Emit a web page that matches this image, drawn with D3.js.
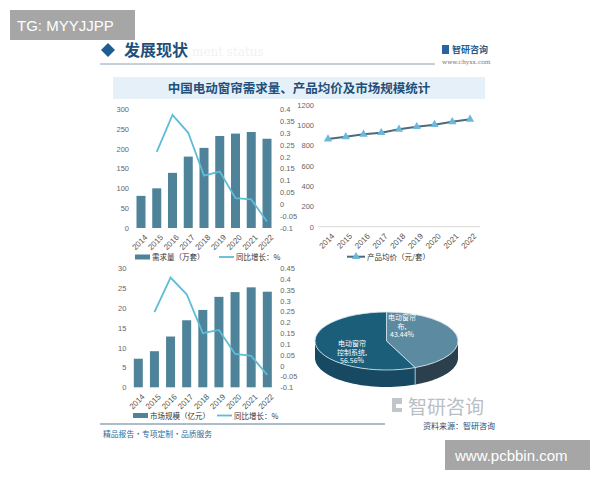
<!DOCTYPE html>
<html>
<head>
<meta charset="utf-8">
<script src="https://cdn.jsdelivr.net/npm/d3@7"></script>
<style>
  body { margin: 0; background: #fff; }
  svg text { font-family: "Noto Sans CJK SC", "Liberation Sans", sans-serif; }
</style>
</head>
<body>
<div id="chart"></div>
<script>
// data
var years = ["2014", "2015", "2016", "2017", "2018", "2019", "2020", "2021", "2022"];
var demand = [81, 100, 139, 180, 202, 232, 238, 242, 225];          // 万套
var demandGrowth = [null, 0.22, 0.375, 0.30, 0.12, 0.137, 0.025, 0.02, -0.073];
var price = [865, 887, 911, 927, 960, 986, 1006, 1035, 1059];        // 元/套
var marketSize = [7.2, 9.1, 12.8, 16.9, 19.5, 22.8, 24.0, 25.2, 24.1]; // 亿元
var marketGrowth = [null, 0.247, 0.407, 0.33, 0.15, 0.165, 0.054, 0.045, -0.043];
var pieNames = ["电动窗帘布", "电动窗帘控制系统"];
var pieShares = [43.44, 56.56];

var barColor = "#4f8399", growColor = "#5dbdd6", axisText = "#666";

var svg = d3.select("#chart").append("svg")
  .attr("width", 600).attr("height", 480);

// ---- overlay boxes & header ----
svg.append("rect").attr("x", 10).attr("y", 10).attr("width", 125).attr("height", 30).attr("fill", "#a6a6a6");
svg.append("text").attr("x", 17).attr("y", 31).text("TG: MYYJJPP")
  .attr("fill", "#fff").attr("font-size", 15).style("font-family", "Liberation Sans, sans-serif");

svg.append("path").attr("d", "M108,43 L115,50 L108,57 L101,50 Z").attr("fill", "#1f5c94");
svg.append("text").attr("x", 124).attr("y", 56).text("发展现状")
  .attr("fill", "#1f4f7a").attr("font-size", 16).attr("font-weight", "bold");
svg.append("text").attr("x", 192).attr("y", 56).text("ment status")
  .attr("fill", "#f0f2f5").attr("font-size", 12).style("font-family", "DejaVu Serif, serif");
svg.append("line").attr("x1", 100).attr("x2", 435).attr("y1", 64).attr("y2", 64)
  .attr("stroke", "#8aa0b0").attr("stroke-width", 1);
svg.append("rect").attr("x", 442).attr("y", 45).attr("width", 7).attr("height", 9).attr("fill", "#2a64a0");
svg.append("text").attr("x", 452).attr("y", 53).text("智研咨询")
  .attr("fill", "#2a5c8a").attr("font-size", 9).attr("font-weight", "bold");
svg.append("text").attr("x", 442).attr("y", 64).text("www.chyxx.com")
  .attr("fill", "#777").attr("font-size", 6).style("font-family", "DejaVu Serif, serif");

svg.append("rect").attr("x", 113).attr("y", 77).attr("width", 372).attr("height", 22).attr("fill", "#e6f0f8");
svg.append("text").attr("x", 299).attr("y", 93).attr("text-anchor", "middle")
  .text("中国电动窗帘需求量、产品均价及市场规模统计")
  .attr("fill", "#1f4f7a").attr("font-size", 12.5).attr("font-weight", "bold");

// ---- combo chart (bars + growth line) ----
function combo(opt) {
  var x = d3.scalePoint().domain(years).range(opt.xr);
  var yL = d3.scaleLinear().domain(opt.leftDom).range(opt.yr);
  var yR = d3.scaleLinear().domain(opt.rightDom).range(opt.yr);
  var g = svg.append("g");

  var ax1 = g.append("g").attr("transform", "translate(" + (opt.xr[0] - 12) + ",0)")
    .call(d3.axisLeft(yL).tickValues(d3.range(opt.leftDom[0], opt.leftDom[1] + 0.001, opt.leftStep)).tickSize(0).tickPadding(0));
  var ax2 = g.append("g").attr("transform", "translate(" + (opt.xr[1] + 13) + ",0)")
    .call(d3.axisRight(yR).tickValues(d3.range(opt.rightDom[0], opt.rightDom[1] + 0.001, 0.05)).tickSize(0).tickPadding(0)
      .tickFormat(function(d) { return +d.toFixed(2); }));
  [ax1, ax2].forEach(function(a) {
    a.select(".domain").remove();
    a.selectAll("text").attr("fill", axisText).attr("font-size", 7.5).style("font-family", "Liberation Sans, sans-serif");
  });

  g.selectAll(".bar").data(opt.bars).enter().append("rect")
    .attr("x", function(d, i) { return x(years[i]) - 4.5; })
    .attr("width", 9)
    .attr("y", function(d) { return yL(d); })
    .attr("height", function(d) { return yL(0) - yL(d); })
    .attr("fill", barColor);

  var line = d3.line()
    .defined(function(d) { return d != null; })
    .x(function(d, i) { return x(years[i]); })
    .y(function(d) { return yR(d); });
  g.append("path").datum(opt.growth).attr("d", line)
    .attr("fill", "none").attr("stroke", growColor).attr("stroke-width", 1.8);

  g.selectAll(".yr").data(years).enter().append("text")
    .attr("transform", function(d) { return "translate(" + (x(d) + 3) + "," + (opt.yr[0] + 6) + ") rotate(-45)"; })
    .attr("text-anchor", "end").attr("dy", "0.7em")
    .text(function(d) { return d; })
    .attr("fill", "#555").attr("font-size", 8).style("font-family", "Liberation Sans, sans-serif");

  var ly = opt.legendY;
  g.append("rect").attr("x", opt.legX).attr("y", ly - 2.5).attr("width", 15).attr("height", 5).attr("fill", barColor);
  g.append("text").attr("x", opt.legX + 17).attr("y", ly + 3).text(opt.barName).attr("font-size", 7.5).attr("fill", "#333");
  g.append("line").attr("x1", opt.legX + 84).attr("x2", opt.legX + 99).attr("y1", ly).attr("y2", ly)
    .attr("stroke", growColor).attr("stroke-width", 1.8);
  g.append("text").attr("x", opt.legX + 101).attr("y", ly + 3).text("同比增长：%").attr("font-size", 7.5).attr("fill", "#333");
}

combo({ xr: [141, 267], yr: [228, 109], leftDom: [0, 300], leftStep: 50, rightDom: [-0.1, 0.4],
        bars: demand, growth: demandGrowth, barName: "需求量（万套）", legendY: 257, legX: 135 });
combo({ xr: [138.3, 267.3], yr: [387.3, 268.3], leftDom: [0, 30], leftStep: 5, rightDom: [-0.1, 0.45],
        bars: marketSize, growth: marketGrowth, barName: "市场规模（亿元）", legendY: 415.5, legX: 133 });

// ---- price line chart ----
(function() {
  var x = d3.scalePoint().domain(years).range([328, 470]);
  var y = d3.scaleLinear().domain([0, 1200]).range([226.7, 105]);
  var g = svg.append("g");
  var ax = g.append("g").attr("transform", "translate(314,0)")
    .call(d3.axisLeft(y).tickValues(d3.range(0, 1201, 200)).tickSize(0).tickPadding(0).tickFormat(d3.format("d")));
  ax.select(".domain").remove();
  ax.selectAll("text").attr("fill", axisText).attr("font-size", 7.5).style("font-family", "Liberation Sans, sans-serif");
  g.append("line").attr("x1", 318).attr("x2", 480).attr("y1", y(0)).attr("y2", y(0)).attr("stroke", "#d9d9d9");

  g.append("path").datum(price)
    .attr("d", d3.line().x(function(d, i) { return x(years[i]); }).y(function(d) { return y(d); }))
    .attr("fill", "none").attr("stroke", "#4d6b78").attr("stroke-width", 2);
  var tri = d3.symbol().type(d3.symbolTriangle).size(30);
  g.selectAll(".tri").data(price).enter().append("path")
    .attr("d", tri)
    .attr("transform", function(d, i) { return "translate(" + x(years[i]) + "," + y(d) + ")"; })
    .attr("fill", "#6ab8dc");

  g.selectAll(".yr").data(years).enter().append("text")
    .attr("transform", function(d) { return "translate(" + (x(d) + 3) + "," + (y(0) + 6) + ") rotate(-45)"; })
    .attr("text-anchor", "end").attr("dy", "0.7em")
    .text(function(d) { return d; })
    .attr("fill", "#555").attr("font-size", 8).style("font-family", "Liberation Sans, sans-serif");

  g.append("line").attr("x1", 347).attr("x2", 365).attr("y1", 256.7).attr("y2", 256.7)
    .attr("stroke", "#4d6b78").attr("stroke-width", 2);
  g.append("path").attr("d", tri).attr("transform", "translate(356,256.7)").attr("fill", "#6ab8dc");
  g.append("text").attr("x", 367).attr("y", 260).text("产品均价（元/套）").attr("font-size", 7.5).attr("fill", "#333");
})();

// ---- 3D pie ----
(function() {
  var cx = 386.5, cy = 341, rx = 71.5, ry = 29, depth = 17;
  var slices = d3.pie().sort(null).value(function(d) { return d; })(pieShares);
  var topCol = ["#5b8aa1", "#1b5e7a"], sideCol = ["#2b404c", "#174a62"];
  function pt(a, dy) { return [cx + rx * Math.sin(a), cy - ry * Math.cos(a) + dy]; }

  slices.forEach(function(s, i) {
    var a0 = Math.max(s.startAngle, Math.PI / 2), a1 = Math.min(s.endAngle, 3 * Math.PI / 2);
    if (a1 <= a0) return;
    var pts = [], n = 40, k;
    for (k = 0; k <= n; k++) pts.push(pt(a0 + (a1 - a0) * k / n, 0));
    for (k = n; k >= 0; k--) pts.push(pt(a0 + (a1 - a0) * k / n, depth));
    svg.append("path").attr("d", "M" + pts.join("L") + "Z").attr("fill", sideCol[i]);
  });
  // edge between slices on the side
  var e = pt(slices[0].endAngle, 0);
  svg.append("line").attr("x1", e[0]).attr("x2", e[0]).attr("y1", e[1]).attr("y2", e[1] + depth)
    .attr("stroke", "#c8dde8").attr("stroke-width", 0.8);

  var arc = d3.arc().innerRadius(0).outerRadius(rx);
  var top = svg.append("g").attr("transform", "translate(" + cx + "," + cy + ") scale(1," + (ry / rx) + ")");
  top.selectAll("path").data(slices).enter().append("path")
    .attr("d", arc)
    .attr("fill", function(d, i) { return topCol[i]; })
    .attr("stroke", "#d6e6ee").attr("stroke-width", 0.8).attr("vector-effect", "non-scaling-stroke");

  var labels = [["电动窗帘", "布,", pieShares[0].toFixed(2) + "%"],
                ["电动窗帘", "控制系统,", pieShares[1].toFixed(2) + "%"]];
  var lpos = [[402, 320], [352, 346]];
  labels.forEach(function(l, i) {
    l.forEach(function(s, j) {
      svg.append("text").attr("text-anchor", "middle").attr("fill", "#fff").attr("font-size", 7)
        .attr("x", lpos[i][0]).attr("y", lpos[i][1] + j * 8.6).text(s);
    });
  });
})();

// ---- footer ----
svg.append("path").attr("d", "M392,398 h10 v6 h-6 v4 h6 v4 h-10 Z").attr("fill", "#c0c6cc");
svg.append("text").attr("x", 408).attr("y", 414).text("智研咨询")
  .attr("fill", "#b8bec4").attr("font-size", 19);
svg.append("line").attr("x1", 100).attr("x2", 385).attr("y1", 424).attr("y2", 424)
  .attr("stroke", "#8fa8b8").attr("stroke-width", 1.5);
svg.append("text").attr("x", 423).attr("y", 429).text("资料来源：智研咨询")
  .attr("fill", "#1f4f7a").attr("font-size", 8);
svg.append("text").attr("x", 103).attr("y", 437).text("精品报告・专项定制・品质服务")
  .attr("fill", "#2a6a9a").attr("font-size", 7.8);

svg.append("rect").attr("x", 445).attr("y", 440).attr("width", 145).attr("height", 30).attr("fill", "#a6a6a6");
svg.append("text").attr("x", 455).attr("y", 461).text("www.pcbbin.com")
  .attr("fill", "#fff").attr("font-size", 15).style("font-family", "Liberation Sans, sans-serif");
</script>
</body>
</html>
